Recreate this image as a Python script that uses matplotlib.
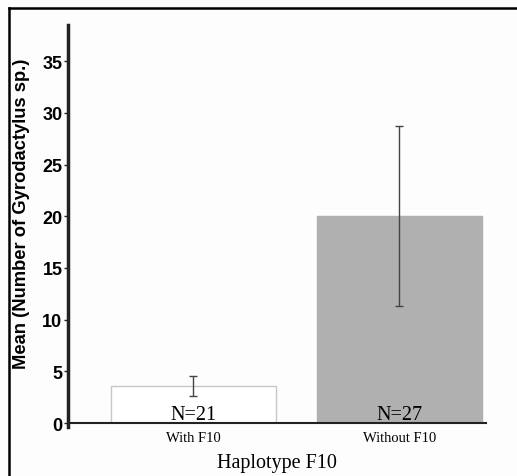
import matplotlib.pyplot as plt
from matplotlib.lines import Line2D

# datos
grupos = ['With F10', 'Without F10']
medias = [3.57, 20.0]
errores = [0.95, 8.7]
n_muestra = ['N=21', 'N=27']

fig = plt.figure(figsize=(5.17, 4.77), dpi=100)
fig.patch.set_facecolor('#fdfdfd')
ax = fig.add_axes([0.1315, 0.111, 0.8085, 0.8345])
ax.set_facecolor('#fdfdfd')

pos = list(range(len(grupos)))
ax.bar(pos, medias, width=0.8, color=['white', '#b0b0b0'],
       edgecolor=['#c8c8c8', '#b0b0b0'], linewidth=1)
ax.errorbar(pos, medias, yerr=errores, fmt='none', ecolor='#444444',
            elinewidth=1, capsize=3, capthick=1)

for x, t in zip(pos, n_muestra):
    ax.text(x, 0.35, t, ha='center', va='baseline',
            fontfamily='Liberation Serif', fontsize=14.5)

ax.set_xlim(-0.607, 1.42)
ax.set_ylim(0, 38.5)
ax.set_yticks([0, 5, 10, 15, 20, 25, 30, 35])
ax.set_xticks(pos)
ax.set_xticklabels(grupos, fontfamily='Liberation Serif', fontsize=10.5)
ax.tick_params(axis='x', length=0, pad=6)
ax.tick_params(axis='y', length=3, width=1, pad=1, color='#222222')
for lab in ax.get_yticklabels():
    lab.set_fontfamily('Liberation Sans')
    lab.set_fontweight('bold')
    lab.set_fontsize(13)

ax.spines['top'].set_visible(False)
ax.spines['right'].set_visible(False)
ax.spines['left'].set_linewidth(2.5)
ax.spines['left'].set_color('#222222')
ax.spines['left'].set_bounds(-0.4, 38.5)
ax.spines['bottom'].set_linewidth(1.5)
ax.spines['bottom'].set_color('#222222')

ax.set_xlabel('Haplotype F10', fontfamily='Liberation Serif', fontsize=14.5, labelpad=6)
ax.set_ylabel('Mean (Number of Gyrodactylus sp.)', fontfamily='Liberation Sans',
              fontweight='bold', fontsize=13.25)
ax.yaxis.set_label_coords(-0.09, 0.528)

# marco de la figura (arriba e izquierda)
fig.add_artist(Line2D([9 / 517, 1], [1 - 9 / 477, 1 - 9 / 477], color='black', lw=1.8))
fig.add_artist(Line2D([9 / 517, 9 / 517], [0, 1 - 9 / 477], color='black', lw=1.8))

fig.savefig('out.png', dpi=100, facecolor=fig.get_facecolor())
